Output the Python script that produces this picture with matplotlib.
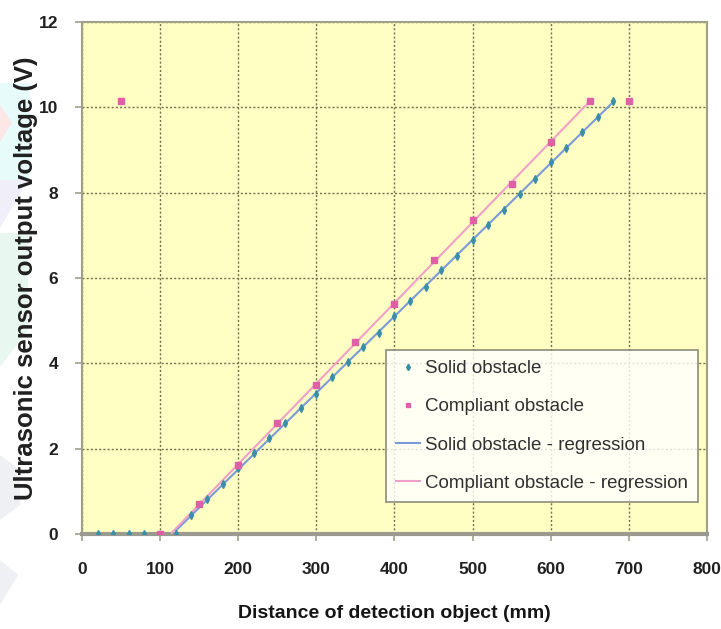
import numpy as np
import matplotlib
matplotlib.use('Agg')
import matplotlib.pyplot as plt
from matplotlib.patches import Polygon

# solid obstacle measurements (mm, V)
solid_x = [20, 40, 60, 80, 120, 140, 160, 180, 200, 220, 240, 260, 280, 300,
           320, 340, 360, 380, 400, 420, 440, 460, 480, 500, 520, 540, 560,
           580, 600, 620, 640, 660, 680]
solid_y = [0, 0, 0, 0, 0, 0.45, 0.82, 1.18, 1.55, 1.9, 2.26, 2.6, 2.95, 3.28,
           3.68, 4.02, 4.38, 4.72, 5.1, 5.45, 5.8, 6.18, 6.52, 6.88, 7.25,
           7.6, 7.97, 8.33, 8.71, 9.05, 9.42, 9.78, 10.15]

# compliant obstacle measurements
compl_x = [50, 100, 150, 200, 250, 300, 350, 400, 450, 500, 550, 600, 650, 700]
compl_y = [10.15, 0, 0.7, 1.62, 2.6, 3.5, 4.49, 5.38, 6.42, 7.35, 8.2, 9.19,
           10.15, 10.15]

# ranges over which regressions were fitted / drawn
solid_fit = (120, 680)
compl_fit = (150, 650)
compl_draw = (115, 650)

plt.rcParams['font.family'] = ['Liberation Sans', 'DejaVu Sans']

fig = plt.figure(figsize=(7.21, 6.29), dpi=100)

# faint watermark shapes at the left edge of the page
W, H = 721.0, 629.0
marks = [
    ([(0, 83), (30, 83), (30, 180), (0, 180)], '#e8fbfb'),
    ([(0, 105), (12, 123), (0, 142)], '#fde6e6'),
    ([(0, 180), (28, 180), (0, 228)], '#efeef9'),
    ([(0, 233), (28, 233), (28, 330), (0, 367)], '#e8f7ef'),
    ([(0, 455), (20, 470), (20, 505), (0, 520)], '#eef0f3'),
    ([(0, 560), (18, 575), (0, 605)], '#eef0f3'),
]
for pts, col in marks:
    fig.add_artist(Polygon([(x / W, 1 - y / H) for x, y in pts],
                           closed=True, transform=fig.transFigure,
                           facecolor=col, edgecolor='none', zorder=0))

ax = fig.add_axes([0.1137, 0.151, 0.8669, 0.814])
ax.set_facecolor('#ffffc4')

sx = np.array(solid_x, float)
sy = np.array(solid_y, float)
cx = np.array(compl_x, float)
cy = np.array(compl_y, float)

m = (sx >= solid_fit[0]) & (sx <= solid_fit[1])
ps = np.polyfit(sx[m], sy[m], 1)
m2 = (cx >= compl_fit[0]) & (cx <= compl_fit[1])
pc = np.polyfit(cx[m2], cy[m2], 1)

xs = np.array(solid_fit, float)
xc = np.array(compl_draw, float)

ax.plot(sx, sy, 'd', color='#3a8ea8', ms=4, label='Solid obstacle', zorder=4)
ax.plot(cx, cy, 's', color='#e060a8', ms=4, label='Compliant obstacle', zorder=4)
ax.plot(xs, np.polyval(ps, xs), color='#7a9ad8', lw=1.5,
        label='Solid obstacle - regression', zorder=3)
ax.plot(xc, np.polyval(pc, xc), color='#f0a0c8', lw=1.5,
        label='Compliant obstacle - regression', zorder=3)

ax.set_xlim(0, 800)
ax.set_ylim(0, 12)
ax.set_xticks(range(0, 801, 100))
ax.set_yticks(range(0, 13, 2))
ax.grid(True, color='#707050', ls=(0, (1.5, 1.5)), lw=1)
ax.set_axisbelow(True)

for s in ax.spines.values():
    s.set_color('#a0a088')
    s.set_linewidth(1.5)
ax.spines['bottom'].set_linewidth(3)
ax.spines['bottom'].set_color('#9a9a90')

ax.tick_params(colors='#a0a088', labelcolor='#202020', length=5, width=1.2)
ax.tick_params(axis='x', pad=15)
ax.tick_params(axis='y', pad=12)
for t in ax.get_xticklabels() + ax.get_yticklabels():
    t.set_fontsize(12.5)
    t.set_fontweight('bold')

ax.set_xlabel('Distance of detection object (mm)', fontsize=14,
              fontweight='bold', color='#151515', labelpad=20)
ax.set_ylabel('Ultrasonic sensor output voltage (V)', fontsize=18.5,
              fontweight='bold', color='#202020')
ax.yaxis.set_label_coords(-0.07, 0.5)

leg = ax.legend(loc='lower right', bbox_to_anchor=(0.986, 0.0625),
                fontsize=13.5, frameon=True, fancybox=False,
                handlelength=1.3, handletextpad=0.25, borderpad=0.55,
                labelspacing=1.12, markerscale=0.8, borderaxespad=0)
leg.get_frame().set_edgecolor('#707060')
leg.get_frame().set_linewidth(1.2)
for t in leg.get_texts():
    t.set_color('#303030')

fig.savefig('out.png', dpi=100, facecolor='white')
